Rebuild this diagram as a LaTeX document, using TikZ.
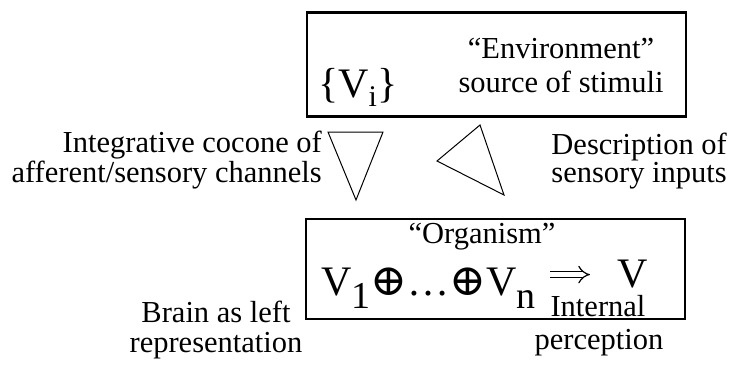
\documentclass[tikz,border=0pt]{standalone}
\usepackage{fontspec}
\setmainfont{Liberation Serif}
\newfontfamily\symfont{DejaVu Serif}
\usepackage{tikz}
\usetikzlibrary{
    arrows.meta,
    positioning
}
\tikzstyle{boxframe} = [
    draw=black,
    line width=2.5pt,
    inner sep=0pt
]
\tikzstyle{cone} = [
    draw=black,
    line width=1pt,
    line join=miter
]
\tikzstyle{implyarrow} = [
    double,
    double distance=5pt,
    line width=1.2pt,
    -{Implies}
]
\tikzstyle{txt} = [
    inner sep=0pt,
    font=\fontsize{30.5}{26.5}\selectfont
]
\tikzstyle{bigtxt} = [
    inner sep=0pt,
    font=\fontsize{42}{42}\selectfont
]

\begin{document}
\begin{tikzpicture}[x=1pt, y=-1pt]
        \useasboundingbox (0,0) rectangle (733,364);

        % Environment box
        \node[boxframe, minimum width=379pt, minimum height=104pt] (env) at (496.5,64.5) {};
        \node[bigtxt, anchor=base west] (vi) at (318,97)
            {\{V\raisebox{-9pt}{\fontsize{30}{30}\selectfont i}\}};
        \node[txt, align=center, anchor=base, font=\fontsize{30.5}{34}\selectfont] (envtext) at (561,92)
            {“Environment”\\source of stimuli};

        % Organism box
        \node[boxframe, minimum width=379pt, minimum height=100pt] (org) at (495.5,269) {};
        \node[txt, anchor=base] (orgtext) at (482,243) {“Organism”};
        \node[bigtxt, anchor=base west] (formula) at (321,295)
            {V\raisebox{-13pt}{\fontsize{38}{38}\selectfont 1}{\symfont\fontsize{44}{44}\selectfont ⊕}…{\symfont\fontsize{44}{44}\selectfont ⊕}V\raisebox{-13pt}{\fontsize{38}{38}\selectfont n}};
        \node[bigtxt, anchor=base west] (whole) at (617,287) {V};
        \draw[implyarrow, shorten <=14pt, shorten >=27pt] ([yshift=-1pt]formula.east |- whole.west) -- ([yshift=-1pt]whole.west);
        \node[txt, anchor=base] (internal) at (598,316) {Internal};
        \node[txt, anchor=base] (percept) at (599,349) {perception};

        % Cocones
        \draw[cone] (328,132) -- (383,132) -- (356,200) -- cycle;
        \draw[cone] (480,125) -- (437,161) -- (504,195) -- cycle;

        % Side labels
        \node[txt, align=right, anchor=base east] (cocone) at (322,182)
            {Integrative cocone of\\afferent/sensory channels};
        \node[txt, align=right, anchor=base east] (descr) at (727,182)
            {Description of\\sensory inputs};
        \node[txt, align=center, anchor=base, font=\fontsize{30.5}{30}\selectfont] (brain) at (216,352)
            {Brain as left\\representation};
    \end{tikzpicture}
\end{document}
